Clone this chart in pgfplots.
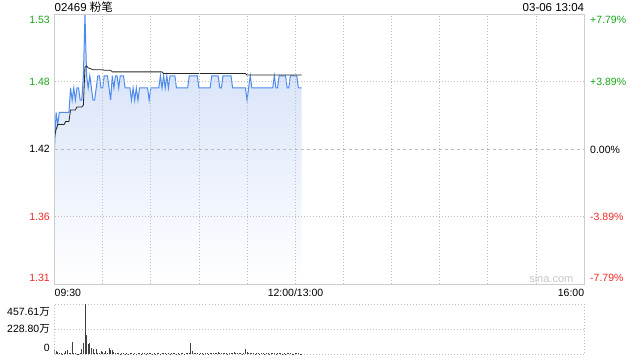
\documentclass[border=0pt]{standalone}
\usepackage{pgfplots}
\pgfplotsset{compat=1.18}
\usepackage{pgfplotstable}
\usepackage{fontspec}
\setmainfont{Liberation Sans}
\newfontfamily\cjk{Noto Sans CJK SC}
\definecolor{upgreen}{RGB}{25,165,25}
\definecolor{downred}{RGB}{240,40,40}
\definecolor{pline}{RGB}{76,139,236}
\definecolor{gridc}{RGB}{190,190,190}
\definecolor{framec}{RGB}{205,205,205}
\definecolor{fillc}{RGB}{208,222,248}

\pgfplotstableread{
m p
0 1.42
1 1.45
2 1.44
3 1.45
4 1.45
5 1.45
6 1.45
7 1.45
8 1.45
9 1.45
10 1.47
11 1.46
12 1.47
13 1.46
14 1.47
15 1.47
16 1.46
17 1.46
18 1.48
19 1.53
20 1.48
21 1.47
22 1.48
23 1.47
24 1.46
25 1.46
26 1.47
27 1.48
28 1.48
29 1.47
30 1.47
31 1.48
32 1.48
33 1.48
34 1.47
35 1.46
36 1.48
37 1.47
38 1.48
39 1.48
40 1.47
41 1.48
42 1.48
43 1.48
44 1.47
45 1.47
46 1.47
47 1.47
48 1.46
49 1.47
50 1.46
51 1.47
52 1.46
53 1.47
54 1.47
55 1.47
56 1.47
57 1.47
58 1.47
59 1.46
60 1.47
61 1.47
62 1.47
63 1.47
64 1.47
65 1.47
66 1.48
67 1.47
68 1.48
69 1.47
70 1.48
71 1.47
72 1.48
73 1.48
74 1.48
75 1.48
76 1.47
77 1.47
78 1.47
79 1.47
80 1.47
81 1.47
82 1.47
83 1.47
84 1.48
85 1.48
86 1.48
87 1.48
88 1.48
89 1.48
90 1.47
91 1.47
92 1.47
93 1.47
94 1.47
95 1.47
96 1.47
97 1.47
98 1.48
99 1.48
100 1.48
101 1.48
102 1.48
103 1.47
104 1.47
105 1.48
106 1.48
107 1.48
108 1.48
109 1.48
110 1.48
111 1.47
112 1.47
113 1.47
114 1.47
115 1.47
116 1.47
117 1.47
118 1.47
119 1.47
120 1.46
121 1.47
122 1.48
123 1.47
124 1.47
125 1.47
126 1.47
127 1.47
128 1.47
129 1.47
130 1.47
131 1.47
132 1.47
133 1.47
134 1.47
135 1.47
136 1.47
137 1.48
138 1.47
139 1.47
140 1.48
141 1.48
142 1.48
143 1.48
144 1.48
145 1.47
146 1.47
147 1.48
148 1.48
149 1.48
150 1.48
151 1.48
152 1.47
153 1.47
154 1.47
}\price

\pgfplotstableread{
m a
0 1.430
1 1.436
2 1.440
6 1.440
7 1.4426
9 1.4426
10 1.452
13 1.452
14 1.4544
17 1.4544
18 1.456
19 1.487
20 1.488
21 1.4865
22 1.486
24 1.485
30 1.485
31 1.4845
35 1.4845
36 1.4832
67 1.4832
68 1.4818
119 1.4818
120 1.4806
154 1.4806
}\avg

\pgfplotstableread{
m v
0 46
1 27
2 20
3 8
4 12
5 6
6 10
7 30
8 37
9 8
10 12
11 113
12 10
13 8
14 6
15 5
16 9
17 52
18 107
19 457.61
20 175
21 98
22 107
23 61
24 46
25 15
26 46
27 12
28 10
29 30
30 21
31 8
32 30
33 9
34 61
35 40
36 40
37 21
38 8
39 12
40 8
41 6
42 10
43 9
44 7
45 11
46 6
47 8
48 12
49 7
50 9
51 6
52 10
53 8
54 7
55 9
56 11
57 6
58 8
59 10
60 12
61 7
62 9
63 6
64 8
65 10
66 7
67 9
68 12
69 8
70 6
71 10
72 7
73 9
74 8
75 11
76 6
77 9
78 7
79 8
80 10
81 6
82 9
83 12
84 15
85 107
86 30
87 14
88 9
89 8
90 7
91 10
92 9
93 6
94 8
95 11
96 7
97 9
98 12
99 8
100 10
101 15
102 21
103 9
104 11
105 8
106 12
107 9
108 7
109 14
110 10
111 8
112 21
113 9
114 12
115 8
116 10
117 7
118 15
119 52
120 18
121 10
122 12
123 8
124 9
125 7
126 10
127 8
128 6
129 9
130 11
131 7
132 8
133 10
134 6
135 9
136 8
137 12
138 7
139 9
140 10
141 8
142 6
143 9
144 7
145 11
146 8
147 9
148 7
149 6
150 10
151 8
152 9
153 7
154 6
}\vol

\begin{document}
\begin{tikzpicture}
\useasboundingbox (0,0) rectangle (640pt,360pt);
\begin{axis}[
  name=main, at={(54.5pt,76pt)}, anchor=south west, scale only axis,
  width=529.5pt, height=270pt,
  xmin=0, xmax=330, ymin=1.3094, ymax=1.5306,
  xtick={30,60,...,300}, ytick={1.3647,1.4753},
  extra y ticks={1.42},
  extra y tick style={grid style={dash pattern=on 3pt off 3pt, color=gridc, line width=0.7pt}},
  extra y tick labels={},
  xmajorgrids, ymajorgrids,
  grid style={dash pattern=on 1pt off 2pt, color=gridc, line width=0.7pt},
  xticklabels={}, yticklabels={},
  major tick length=0pt,
  axis line style={framec, line width=0.8pt},
  axis on top,
]
\addplot[draw=none, top color=fillc, bottom color=white] table[x=m,y=p] {\price} -- (axis cs:154,1.3094) -- (axis cs:0,1.3094) -- cycle;
\addplot[pline, line width=1pt] table[x=m,y=p] {\price};
\addplot[black!85, line width=0.8pt] table[x=m,y=a] {\avg};
\end{axis}

\begin{axis}[
  at={(54.5pt,5.7pt)}, anchor=south west, scale only axis,
  width=529.5pt, height=50pt,
  xmin=0, xmax=330, ymin=0, ymax=457.61,
  xtick=\empty, ytick={228.80}, yticklabels={},
  ymajorgrids, major tick length=0pt,
  grid style={dash pattern=on 1pt off 2pt, color=gridc, line width=0.7pt},
  axis line style={gridc, dash pattern=on 1pt off 2pt, line width=0.7pt},
]
\addplot[ycomb, color=black!75, line width=0.8pt] table[x=m,y=v] {\vol};
\end{axis}

\begin{scope}[every node/.style={inner sep=0pt, font=\fontsize{10.5}{12}\selectfont}]
\node[anchor=base west, font=\fontsize{11.5}{13}\selectfont] at (54.5pt,348.3pt) {02469 {\cjk 粉笔}};
\node[anchor=base east, font=\fontsize{11.5}{13}\selectfont] at (584.3pt,348.7pt) {03-06 13:04};
\node[anchor=east, text=upgreen] at (50pt,340pt) {1.53};
\node[anchor=east, text=upgreen] at (50pt,278.3pt) {1.48};
\node[anchor=east] at (50pt,210.7pt) {1.42};
\node[anchor=east, text=downred] at (50pt,142.7pt) {1.36};
\node[anchor=east, text=downred] at (50pt,82.3pt) {1.31};
\node[anchor=west, text=upgreen] at (590pt,340pt) {+7.79\%};
\node[anchor=west, text=upgreen] at (590pt,278.3pt) {+3.89\%};
\node[anchor=west] at (590pt,210.5pt) {0.00\%};
\node[anchor=west, text=downred] at (590pt,142.7pt) {-3.89\%};
\node[anchor=west, text=downred] at (590pt,82.3pt) {-7.79\%};
\node[anchor=base west] at (54.5pt,63.3pt) {09:30};
\node[anchor=base] at (295.5pt,63.3pt) {12:00/13:00};
\node[anchor=base east] at (584.3pt,63.3pt) {16:00};
\node[anchor=east, text=gray!45, font=\fontsize{11}{12}\selectfont] at (573.5pt,81pt) {sina.com};
\node[anchor=east] at (50pt,48pt) {457.61{\cjk 万}};
\node[anchor=east] at (50pt,30.7pt) {228.80{\cjk 万}};
\node[anchor=east] at (50pt,11.7pt) {0};
\end{scope}
\end{tikzpicture}
\end{document}
